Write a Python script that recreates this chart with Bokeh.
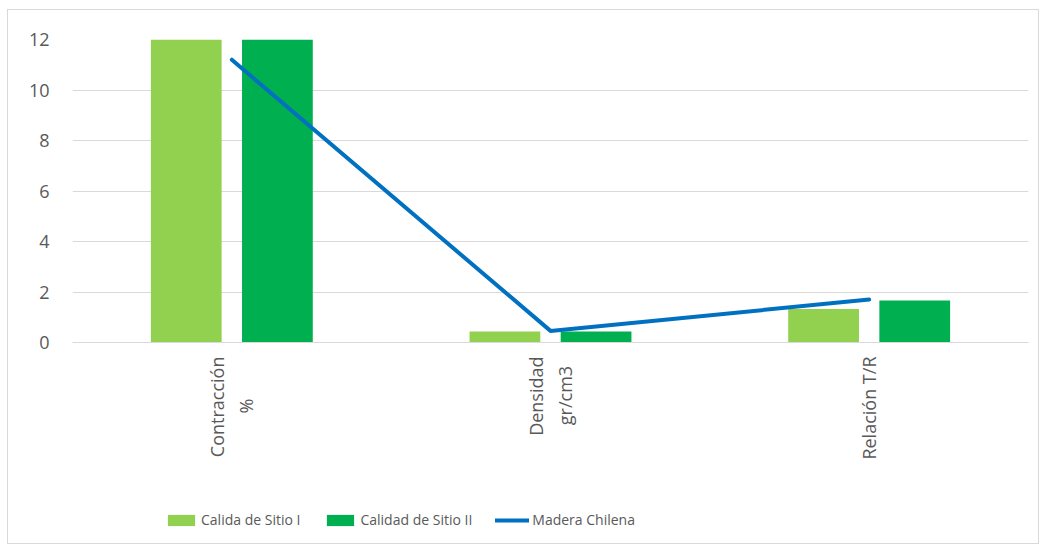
from bokeh.plotting import figure
from bokeh.layouts import column
from bokeh.models import Range1d, FixedTicker, Legend, LegendItem, ColumnDataSource
from bokeh.embed import file_html
from bokeh.resources import INLINE

NB = "\u00a0"
categories = ["Contracción\n%" + NB * 9, "Densidad\ngr/cm3" + NB * 2, "Relación T/R"]
sitio_i = [12.6, 0.44, 1.33]
sitio_ii = [12.6, 0.44, 1.66]
madera_chilena = [11.2, 0.46, 1.70]
y_ticks = [0, 2, 4, 6, 8, 10, 12]
series_names = ["Calida de Sitio I", "Calidad de Sitio II", "Madera Chilena"]

FONT = "Open Sans"
GREY = "#595959"
C1, C2, C3 = "#92D050", "#00B050", "#0070C0"

xs = list(range(len(categories)))
src = ColumnDataSource(dict(
    x1=[x - 0.143 for x in xs], x2=[x + 0.143 for x in xs], x=xs,
    s1=sitio_i, s2=sitio_ii, m=madera_chilena))

p = figure(width=1030, height=491, output_backend="svg", toolbar_location=None,
           x_range=Range1d(-0.5, 2.5), y_range=Range1d(0, 12),
           min_border_left=64, min_border_right=10, min_border_top=29, min_border_bottom=159)
p.outline_line_color = None

p.vbar(x="x1", top="s1", width=0.222, source=src, fill_color=C1, line_color=None)
p.vbar(x="x2", top="s2", width=0.222, source=src, fill_color=C2, line_color=None)
p.line(x="x", y="m", source=src, line_color=C3, line_width=4, line_cap="round")

p.yaxis.ticker = FixedTicker(ticks=y_ticks)
p.yaxis.axis_line_color = None
p.yaxis.major_tick_line_color = None
p.yaxis.minor_tick_line_color = None
p.yaxis.major_label_text_font = FONT
p.yaxis.major_label_text_font_size = "18px"
p.yaxis.major_label_text_color = GREY
p.yaxis.major_label_standoff = 17

p.xaxis.ticker = FixedTicker(ticks=xs)
p.xaxis.major_label_overrides = {i: c for i, c in enumerate(categories)}
p.xaxis.major_label_orientation = 3.14159265 / 2
p.xaxis.axis_line_color = "#d9d9d9"
p.xaxis.major_tick_line_color = None
p.xaxis.minor_tick_line_color = None
p.xaxis.major_label_text_font = FONT
p.xaxis.major_label_text_font_size = "18px"
p.xaxis.major_label_text_color = GREY
p.xaxis.major_label_standoff = 8

p.xgrid.grid_line_color = None
p.ygrid.grid_line_color = "#d9d9d9"
p.ygrid.grid_line_width = 1

# legend strip (proxy glyphs kept outside its visible range)
lf = figure(width=1030, height=42, output_backend="svg", toolbar_location=None,
            x_range=Range1d(0, 1), y_range=Range1d(0, 1), min_border=0,
            x_axis_location=None, y_axis_location=None)
lf.outline_line_color = None
lf.grid.visible = False
g1 = lf.vbar(x=[-5], top=[-5], width=0.1, fill_color=C1, line_color=None)
g2 = lf.vbar(x=[-5], top=[-5], width=0.1, fill_color=C2, line_color=None)
g3 = lf.line(x=[-5, -4], y=[-5, -4], line_color=C3, line_width=4, line_cap="round")
legend = Legend(items=[LegendItem(label=n, renderers=[g]) for n, g in zip(series_names, [g1, g2, g3])],
                orientation="horizontal", location=(92, 14),
                glyph_width=34, glyph_height=14, label_standoff=3, spacing=23,
                label_text_font=FONT, label_text_font_size="14px", label_text_color=GREY,
                border_line_color=None, background_fill_alpha=0, padding=0, margin=0)
lf.add_layout(legend, "center")

layout = column(p, lf, spacing=0)
layout.styles = {"border": "1px solid #d9d9d9", "margin-left": "7px", "margin-top": "9px"}

open("out.html", "w").write(file_html(layout, INLINE))
